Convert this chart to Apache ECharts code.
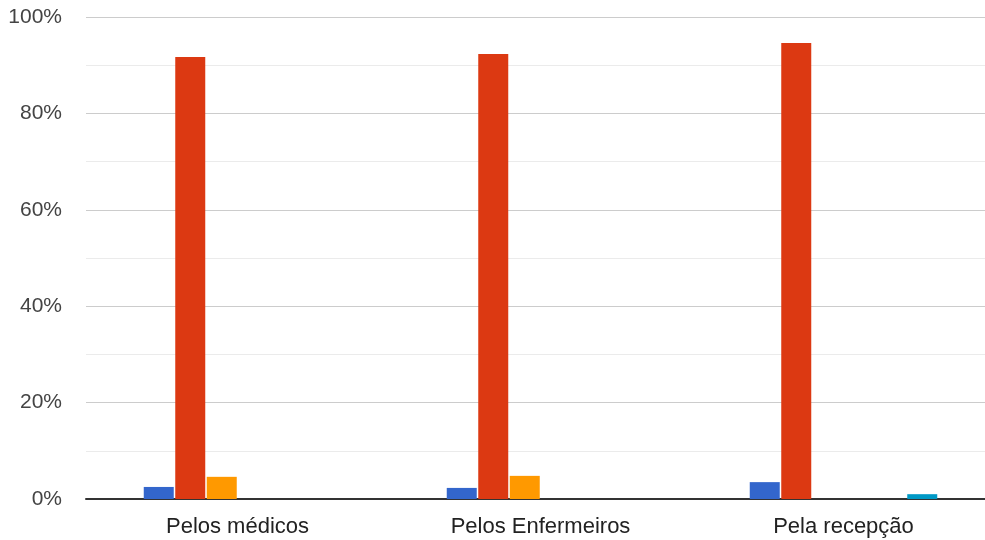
<!DOCTYPE html>
<html>
<head>
<meta charset="utf-8">
<script src="https://cdn.jsdelivr.net/npm/echarts@6/dist/echarts.min.js"></script>
<style>html,body{margin:0;padding:0;background:#fff}#c{width:985px;height:540px}</style>
</head>
<body>
<div id="c"></div>
<script>
const categories = ['Pelos médicos', 'Pelos Enfermeiros', 'Pela recepção'];
const seriesNames = ['Série 1', 'Série 2', 'Série 3', 'Série 4', 'Série 5', 'Série 6'];
const seriesColors = ['#3366cc', '#dc3912', '#ff9900', '#109618', '#990099', '#0099c6'];
const s1 = [2.5, 2.3, 3.5];
const s2 = [91.7, 92.3, 94.6];
const s3 = [4.6, 4.8, 0];
const s4 = [0, 0, 0];
const s5 = [0, 0, 0];
const s6 = [0, 0, 1.0];
const seriesValues = [s1, s2, s3, s4, s5, s6];

const chart = echarts.init(document.getElementById('c'), null, {renderer: 'canvas'});
chart.setOption({
  animation: false,
  grid: {left: 86, top: 17, width: 909, height: 482, containLabel: false, outerBoundsMode: 'none'},
  xAxis: {
    type: 'category',
    data: categories,
    axisLine: {show: true, lineStyle: {color: '#333', width: 2}},
    axisTick: {show: false},
    axisLabel: {color: '#222', fontSize: 22, fontFamily: 'Liberation Sans, Arial, sans-serif', margin: 17}
  },
  yAxis: {
    type: 'value',
    min: 0, max: 100, interval: 20,
    axisLine: {show: false},
    axisTick: {show: false},
    axisLabel: {color: '#444', fontSize: 21, fontFamily: 'Liberation Sans, Arial, sans-serif', margin: 24, formatter: '{value}%'},
    splitLine: {lineStyle: {color: '#cccccc', width: 1}},
    minorTick: {show: false, splitNumber: 2},
    minorSplitLine: {show: true, lineStyle: {color: '#ebebeb', width: 1}}
  },
  series: seriesValues.map((d, i) => ({
    name: seriesNames[i],
    type: 'bar',
    data: d,
    barWidth: 30,
    barGap: '5%',
    itemStyle: {color: seriesColors[i]}
  }))
});
</script>
</body>
</html>
